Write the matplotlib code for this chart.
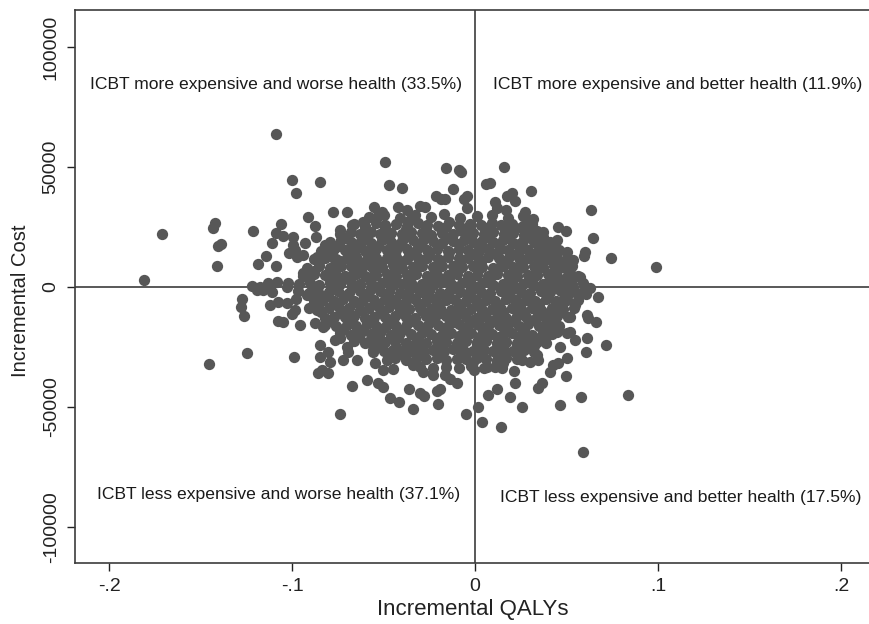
"""
Cost-effectiveness plane for ICBT: bootstrapped incremental QALYs vs incremental cost
"""
import matplotlib
matplotlib.use("Agg")
import matplotlib.pyplot as plt

plt.rcParams['font.family'] = ['Liberation Sans', 'DejaVu Sans']

# Scattered replicates away from the centre of the cloud
outer_points = [
    (-0.1085, 63600), (-0.100, 44500), (-0.098, 39000), (-0.0914, 29300), (-0.171, 22100),
    (-0.142, 26800), (-0.143, 24400), (-0.1215, 23200), (-0.106, 26100), (-0.109, 22600),
    (-0.105, 21300), (-0.0993, 20700), (-0.0996, 17500), (-0.0984, 15400), (-0.1015, 14300),
    (-0.0975, 12600), (-0.0938, 13300), (-0.0929, 18500), (-0.1403, 17100), (-0.139, 17900),
    (-0.111, 18200), (-0.1144, 13000), (-0.1186, 9600), (-0.109, 8800), (-0.1408, 8800),
    (-0.1807, 2900), (-0.0938, 5700), (-0.092, 7800), (-0.122, 500), (-0.1175, 100),
    (-0.113, 1800), (-0.1083, 2200), (-0.102, 1500), (-0.103, 200),
    (-0.0493, 51900), (-0.0847, 43600), (-0.0157, 49700), (-0.0087, 48700), (-0.0078, 47800),
    (-0.0472, 42400), (-0.0397, 41100), (-0.0118, 40700), (-0.0213, 37900), (-0.0186, 36800),
    (-0.0166, 36800), (-0.006, 36800), (-0.0045, 37900), (-0.0045, 32800), (-0.0552, 33200),
    (-0.030, 33700), (-0.042, 33200), (-0.0373, 32100), (-0.0774, 31100), (-0.0701, 31100),
    (-0.0874, 25400), (-0.0869, 20700), (-0.0792, 6400), (-0.0884, 6000), (0.0058, 42800),
    (-0.082, 17500), (-0.0738, 23750), (-0.0674, 25800), (-0.061, 27200), (-0.0537, 29300),
    (-0.051, 31400), (-0.0355, 27900), (-0.0273, 33500), (-0.0765, 11250), (-0.0865, 12600),
    (0.016, 50100), (0.0082, 43200), (0.0304, 40000), (0.0173, 38000), (0.0202, 39000),
    (0.0219, 35800), (0.0109, 35500), (0.0118, 32800), (0.0169, 32100), (0.0273, 31400),
    (0.0282, 27900), (0.0319, 28200), (0.0636, 32200), (0.0224, 24400), (0.0337, 23500),
    (0.0455, 24900), (0.0497, 23200), (0.0643, 20300), (0.0601, 14700), (0.0596, 13000),
    (0.0745, 12100), (0.0987, 8200), (0.0474, 9200), (0.0574, 4300), (0.0373, 21000),
    (0.0446, 19600), (0.0419, 17500), (0.0383, 15400), (0.0319, 13300), (0.0355, 12000),
    (0.0474, 400), (0.0537, 100), (0.0628, -500), (0.0446, 14000), (0.0501, 14700),
    (0.0537, 11250), (0.0519, 5700),
    (-0.1452, -32100), (-0.1248, -27600), (-0.0989, -29300), (-0.1275, -5000), (-0.126, -12100),
    (-0.128, -8300), (-0.112, -7600), (-0.1075, -14200), (-0.105, -14700), (-0.0956, -15800),
    (-0.1002, -11200), (-0.0984, -9600), (-0.1075, -6100), (-0.103, -6800), (-0.0978, -5000),
    (-0.1193, -1200), (-0.1157, -1200), (-0.111, -2000),
    (-0.0738, -52900), (-0.0674, -41100), (-0.0592, -38700), (-0.0528, -40100), (-0.0501, -41800),
    (-0.0464, -46400), (-0.0414, -47800), (-0.0361, -42500), (-0.030, -44300), (-0.0279, -45400),
    (-0.0337, -51000), (-0.020, -48900), (-0.0191, -42600), (-0.0209, -43200), (-0.0051, -52900),
    (0.0018, -49900), (0.0037, -56400), (-0.0847, -24200), (-0.0802, -27000), (-0.0847, -29000),
    (-0.0792, -31100), (-0.0838, -34600), (-0.0802, -36000), (-0.0856, -36000), (-0.0765, -22100),
    (-0.0738, -21400), (-0.072, -30400), (-0.0701, -24900), (-0.0692, -27000), (-0.0647, -30400),
    (-0.0583, -22800), (-0.0556, -27000), (-0.0546, -31800), (-0.0501, -34600), (-0.0446, -34300),
    (-0.0483, -30400), (-0.0455, -28300), (-0.041, -27600), (-0.0373, -27400), (-0.0319, -24600),
    (-0.0337, -32500), (-0.0283, -35300), (-0.0228, -36700), (-0.0164, -36700), (-0.0137, -38500),
    (-0.010, -40100), (-0.0009, -31100), (-0.0005, -34600), (0.0064, -33200), (0.0073, -45000),
    (-0.0874, -15100), (-0.0829, -16500), (-0.0865, -9600),
    (0.0592, -68900), (0.0142, -58500), (0.0258, -50100), (0.0191, -46000), (0.0464, -49200),
    (0.0578, -45700), (0.0834, -45000), (0.0118, -42600), (0.0346, -42000), (0.0364, -40100),
    (0.0219, -39900), (0.0497, -37100), (0.041, -35300), (0.0428, -32500), (0.0455, -31500),
    (0.0505, -29700), (0.0213, -34900), (0.0146, -33900), (0.0118, -31100), (0.0155, -31800),
    (0.0464, -25100), (0.0605, -27000), (0.0614, -21400), (0.0716, -24200), (0.0619, -13000),
    (0.061, -11700), (0.0661, -14700), (0.0505, -19300), (0.0546, -22100), (0.0519, -18600),
    (0.0605, -2900), (0.0674, -4000), (0.0546, -7500), (0.0519, -12400), (0.0464, -10300),
    (0.041, -10300), (0.0546, -2000), (0.0492, -4000), (0.0464, -1200),
    (0.041, -16500), (0.0446, -18600), (0.0392, -20000), (0.0355, -22100), (0.0319, -23500),
    (0.0282, -24900), (0.0264, -26200), (0.0237, -29000), (0.0255, -30400), (0.030, -31100),
    (0.0346, -30400), (0.0337, -28300),
]

# Dense centre of the cloud, listed roughly row by row from the top
core_qaly = [
    -0.058, -0.050, -0.041, -0.033, -0.024, -0.017, -0.008, 0.001, 0.009, 0.018, 0.026,
    -0.066, -0.060, -0.054, -0.049, -0.043, -0.037, -0.031, -0.026, -0.020, -0.014, -0.009,
    -0.003, 0.003, 0.009, 0.014, 0.020, 0.026, 0.031,
    -0.074, -0.068, -0.063, -0.057, -0.052, -0.046, -0.040, -0.035, -0.029, -0.024, -0.018,
    -0.012, -0.007, -0.001, 0.005, 0.010, 0.016, 0.021, 0.027, 0.032, 0.037,
    -0.079, -0.073, -0.068, -0.062, -0.057, -0.051, -0.046, -0.040, -0.034, -0.029, -0.023,
    -0.018, -0.012, -0.006, -0.001, 0.004, 0.010, 0.015, 0.021, 0.026, 0.032, 0.037, 0.041,
    -0.084, -0.077, -0.071, -0.065, -0.060, -0.054, -0.048, -0.043, -0.037, -0.032, -0.026,
    -0.021, -0.015, -0.009, -0.004, 0.002, 0.007, 0.013, 0.018, 0.024, 0.029, 0.035, 0.040, 0.046,
    -0.088, -0.082, -0.076, -0.070, -0.065, -0.059, -0.054, -0.048, -0.043, -0.037, -0.031,
    -0.026, -0.020, -0.015, -0.009, -0.004, 0.002, 0.007, 0.013, 0.018, 0.024, 0.029, 0.035,
    0.040, 0.045, 0.050,
    -0.085, -0.079, -0.073, -0.068, -0.062, -0.057, -0.051, -0.045, -0.040, -0.034, -0.029,
    -0.023, -0.018, -0.012, -0.007, -0.001, 0.004, 0.010, 0.015, 0.021, 0.026, 0.032, 0.037,
    0.043, 0.048, 0.053,
    -0.094, -0.088, -0.082, -0.076, -0.071, -0.065, -0.060, -0.054, -0.048, -0.043, -0.037,
    -0.032, -0.026, -0.021, -0.015, -0.010, -0.004, 0.001, 0.007, 0.012, 0.018, 0.023, 0.029,
    0.034, 0.040, 0.045, 0.051, 0.056,
    -0.096, -0.090, -0.085, -0.079, -0.074, -0.068, -0.063, -0.057, -0.051, -0.046, -0.040,
    -0.035, -0.029, -0.024, -0.018, -0.013, -0.007, -0.002, 0.004, 0.009, 0.015, 0.020, 0.026,
    0.031, 0.037, 0.042, 0.048, 0.053, 0.059,
    -0.097, -0.091, -0.086, -0.080, -0.075, -0.069, -0.063, -0.058, -0.052, -0.047, -0.041,
    -0.036, -0.030, -0.025, -0.019, -0.014, -0.008, -0.003, 0.003, 0.008, 0.014, 0.019, 0.025,
    0.030, 0.036, 0.041, 0.047, 0.052, 0.058,
    -0.088, -0.083, -0.077, -0.072, -0.066, -0.061, -0.055, -0.049, -0.044, -0.038, -0.033,
    -0.027, -0.022, -0.016, -0.011, -0.005, 0.0005, 0.006, 0.011, 0.017, 0.022, 0.028, 0.033,
    0.039, 0.044, 0.050, 0.056,
    -0.091, -0.085, -0.080, -0.074, -0.069, -0.063, -0.058, -0.052, -0.047, -0.041, -0.036,
    -0.030, -0.024, -0.019, -0.013, -0.008, -0.002, 0.003, 0.009, 0.014, 0.020, 0.025, 0.031,
    0.036, 0.042, 0.048, 0.054,
    -0.082, -0.077, -0.071, -0.066, -0.060, -0.055, -0.049, -0.044, -0.038, -0.033, -0.027,
    -0.022, -0.016, -0.011, -0.005, 0.001, 0.006, 0.012, 0.017, 0.023, 0.028, 0.034, 0.039,
    0.045, 0.051,
    -0.082, -0.076, -0.070, -0.065, -0.059, -0.054, -0.048, -0.043, -0.037, -0.031, -0.026,
    -0.020, -0.015, -0.009, -0.004, 0.002, 0.007, 0.013, 0.018, 0.024, 0.029, 0.035, 0.040, 0.046,
    -0.074, -0.068, -0.063, -0.057, -0.052, -0.046, -0.041, -0.035, -0.029, -0.024, -0.018,
    -0.013, -0.007, -0.002, 0.004, 0.009, 0.015, 0.020, 0.026, 0.031, 0.037, 0.042,
    -0.066, -0.060, -0.055, -0.049, -0.044, -0.038, -0.032, -0.027, -0.021, -0.016, -0.010,
    -0.005, 0.001, 0.006, 0.012, 0.017, 0.023, 0.028, 0.034, 0.039,
    -0.056, -0.050, -0.045, -0.039, -0.034, -0.028, -0.023, -0.017, -0.012, -0.006, -0.001,
    0.005, 0.010, 0.016, 0.021, 0.027, 0.032,
    -0.044, -0.038, -0.032, -0.027, -0.021, -0.016, -0.010, -0.005, 0.001, 0.006, 0.012,
    0.017, 0.023,
    -0.030, -0.023, -0.016, -0.009, -0.002, 0.005, 0.011,
]

core_cost = [
    29000, 30200, 28800, 29900, 29300, 30500, 28700, 29600, 30100, 28900, 29400,
    26300, 25600, 26800, 25900, 26400, 25400, 26700, 26000, 25500, 26900, 25800,
    26300, 25700, 26600, 25900, 26200, 25500, 26100,
    22000, 22900, 22300, 23100, 21900, 22600, 22200, 23000, 22400, 21800, 22700,
    22100, 23200, 22500, 21900, 22800, 22300, 22600, 21800, 22400, 22900,
    18600, 19400, 18900, 19200, 18500, 19500, 18800, 19100, 19600, 18700, 19300,
    18400, 19000, 19500, 18600, 19200, 18900, 19400, 18500, 19100, 18800, 19300, 18700,
    15200, 15900, 15400, 15700, 15100, 16000, 15300, 15600, 15800, 15000, 15500,
    15900, 15200, 15700, 15400, 15100, 15800, 15300, 15600, 15000, 15500, 15900, 15200, 15600,
    11800, 12300, 11600, 12100, 12500, 11700, 12200, 11900, 12400, 11500, 12000,
    12300, 11800, 12600, 11900, 12100, 11600, 12400, 12000, 11700, 12300, 11900, 12200,
    11600, 12100, 11800,
    8900, 8100, 8600, 8800, 8200, 8700, 8400, 9000, 8100, 8500, 8800,
    8300, 8600, 8900, 8200, 8700, 8400, 8100, 8800, 8500, 8300, 8900, 8200,
    8600, 8400, 8700,
    4700, 5300, 4900, 5200, 4600, 5400, 4800, 5100, 5500, 4700, 5000,
    5300, 4600, 5200, 4900, 5400, 4800, 5100, 4500, 5300, 5000, 4700, 5200,
    4900, 5400, 4600, 5100, 4800,
    1200, 1800, 1000, 1600, 1300, 1900, 1100, 1500, 1700, 1000, 1400,
    1800, 1200, 1600, 1900, 1100, 1500, 1300, 1700, 1000, 1400, 1800, 1200,
    1600, 1100, 1500, 1900, 1300, 1600,
    -1700, -2300, -1900, -2100, -1600, -2400, -1800, -2200, -1500, -2000, -2300,
    -1700, -2100, -1600, -2400, -1900, -2200, -1800, -2000, -2300, -1600, -2100, -1900,
    -2400, -1700, -2200, -1800, -2000, -2300,
    -5800, -5400, -5700, -5100, -5900, -5300, -5600, -5000, -5500, -5800, -5200,
    -5700, -5100, -5600, -5400, -5900, -5300, -5500, -5800, -5100, -5600, -5400, -5900,
    -5200, -5700, -5300, -5500,
    -8700, -9300, -8900, -9100, -8600, -9400, -8800, -9200, -8500, -9000, -9300,
    -8700, -9100, -8600, -9400, -8900, -9200, -8800, -9000, -9300, -8600, -9100, -8900,
    -9400, -8700, -9200, -8800,
    -12800, -12400, -12700, -12100, -12900, -12300, -12600, -12000, -12500, -12800, -12200,
    -12700, -12100, -12600, -12400, -12900, -12300, -12500, -12800, -12100, -12600, -12400,
    -12900, -12200, -12700,
    -15700, -16300, -15900, -16100, -15600, -16400, -15800, -16200, -15500, -16000, -16300,
    -15700, -16100, -15600, -16400, -15900, -16200, -15800, -16000, -16300, -15600, -16100,
    -15900, -16400,
    -19200, -19800, -19400, -19700, -19100, -19900, -19300, -19600, -19000, -19500, -19800,
    -19200, -19700, -19100, -19600, -19400, -19900, -19300, -19500, -19800, -19100, -19600,
    -22700, -23300, -22900, -23100, -22600, -23400, -22800, -23200, -22500, -23000, -23300,
    -22700, -23100, -22600, -23400, -22900, -23200, -22800, -23000, -23300,
    -26200, -26800, -26400, -26700, -26100, -26900, -26300, -26600, -26000, -26500, -26800,
    -26200, -26700, -26100, -26600, -26400, -26900,
    -29700, -30300, -29900, -30100, -29600, -30400, -29800, -30200, -29500, -30000, -30300,
    -29700, -30100,
    -33200, -33800, -33400, -33700, -33100, -33900, -33300,
]

# Replicates lying between the rows above, where the cloud is thickest
fill_qaly = [
    -0.060, -0.049, -0.038, -0.027, -0.016, -0.005, 0.006, 0.017, 0.028,
    -0.070, -0.059, -0.048, -0.037, -0.026, -0.015, -0.004, 0.007, 0.018, 0.029,
    -0.075, -0.064, -0.053, -0.042, -0.031, -0.020, -0.009, 0.002, 0.013, 0.024, 0.035,
    -0.080, -0.069, -0.058, -0.047, -0.036, -0.025, -0.014, -0.003, 0.008, 0.019, 0.030, 0.041,
    -0.085, -0.074, -0.063, -0.052, -0.041, -0.030, -0.019, -0.008, 0.003, 0.014, 0.025, 0.036,
    0.046,
    -0.088, -0.077, -0.066, -0.055, -0.044, -0.033, -0.022, -0.011, 0.0015, 0.012, 0.023, 0.034,
    0.045,
    -0.091, -0.080, -0.069, -0.058, -0.047, -0.036, -0.025, -0.014, -0.003, 0.008, 0.019, 0.030,
    0.041, 0.051,
    -0.089, -0.078, -0.067, -0.056, -0.045, -0.034, -0.023, -0.012, -0.001, 0.010, 0.021, 0.032,
    0.043, 0.053,
    -0.092, -0.081, -0.070, -0.059, -0.048, -0.037, -0.026, -0.015, -0.004, 0.007, 0.018, 0.029,
    0.040, 0.050,
    -0.086, -0.075, -0.064, -0.053, -0.042, -0.031, -0.020, -0.009, 0.002, 0.013, 0.024, 0.035,
    0.046,
    -0.084, -0.073, -0.062, -0.051, -0.040, -0.029, -0.018, -0.007, 0.004, 0.015, 0.026, 0.037,
    0.047,
    -0.078, -0.067, -0.056, -0.045, -0.034, -0.023, -0.012, -0.001, 0.010, 0.021, 0.032, 0.043,
    -0.072, -0.061, -0.050, -0.039, -0.028, -0.017, -0.006, 0.005, 0.016, 0.027, 0.038,
    -0.064, -0.053, -0.042, -0.031, -0.020, -0.009, 0.002, 0.013, 0.024, 0.035,
    -0.054, -0.043, -0.032, -0.021, -0.010, 0.001, 0.012, 0.023, 0.032,
    -0.040, -0.029, -0.018, -0.007, 0.004, 0.015,
]

fill_cost = [
    24300, 24800, 24200, 24600, 24900, 24100, 24700, 24400, 24500,
    20800, 21300, 20700, 21100, 21200, 20600, 21400, 20900, 21000, 21300,
    17300, 17800, 17200, 17600, 17700, 17100, 17900, 17400, 17500, 17800, 17300,
    13800, 14300, 13700, 14100, 14200, 13600, 14400, 13900, 14000, 14300, 13800, 14200,
    10300, 10800, 10200, 10600, 10700, 10100, 10900, 10400, 10500, 10800, 10300, 10700, 10400,
    6800, 7300, 6700, 7100, 7200, 6600, 7400, 6900, 7000, 7300, 6800, 7200, 6900,
    3300, 3800, 3200, 3600, 3700, 3100, 3900, 3400, 3500, 3800, 3300, 3700, 3400, 3600,
    300, 700, 200, 600, 800, 250, 900, 400, 500, 800, 300, 700, 400, 600,
    -3300, -3800, -3200, -3600, -3700, -3100, -3900, -3400, -3500, -3800, -3300, -3700,
    -3400, -3600,
    -6800, -7300, -6700, -7100, -7200, -6600, -7400, -6900, -7000, -7300, -6800, -7200, -6900,
    -10300, -10800, -10200, -10600, -10700, -10100, -10900, -10400, -10500, -10800, -10300,
    -10700, -10400,
    -13800, -14300, -13700, -14100, -14200, -13600, -14400, -13900, -14000, -14300, -13800,
    -14200,
    -17300, -17800, -17200, -17600, -17700, -17100, -17900, -17400, -17500, -17800, -17300,
    -20800, -21300, -20700, -21100, -21200, -20600, -21400, -20900, -21000, -21300,
    -24300, -24800, -24200, -24600, -24700, -24100, -24900, -24400, -24500,
    -27800, -28300, -27700, -28100, -28200, -27600,
]

x_ticks = [-0.2, -0.1, 0, 0.1, 0.2]
x_tick_labels = ['-.2', '-.1', '0', '.1', '.2']
y_ticks = [-100000, -50000, 0, 50000, 100000]
y_tick_labels = ['-100000', '-50000', '0', '50000', '100000']

quadrant_labels = [
    ('ICBT more expensive and worse health (33.5%)', -0.2104, 84200),
    ('ICBT more expensive and better health (11.9%)', 0.0098, 84200),
    ('ICBT less expensive and worse health (37.1%)', -0.2066, -86300),
    ('ICBT less expensive and better health (17.5%)', 0.0137, -87900),
]

qaly = [p[0] for p in outer_points] + core_qaly + fill_qaly
cost = [p[1] for p in outer_points] + core_cost + fill_cost

fig = plt.figure(figsize=(8.7, 6.24), dpi=100)
ax = fig.add_axes([0.0862, 0.0978, 0.9138, 0.886])

ax.axhline(0, color='#3c3c3c', lw=1.2, zorder=1)
ax.axvline(0, color='#3c3c3c', lw=1.2, zorder=1)
ax.scatter(qaly, cost, s=66, color='#575757', linewidths=0, zorder=2)

for text, x, y in quadrant_labels:
    ax.text(x, y, text, fontsize=12.6, color='#1a1a1a', va='center', ha='left')

ax.set_xlim(-0.2186, 0.2158)
ax.set_ylim(-115000, 115400)
ax.set_xticks(x_ticks)
ax.set_xticklabels(x_tick_labels)
ax.set_yticks(y_ticks)
ax.set_yticklabels(y_tick_labels, rotation=90, va='center')
ax.tick_params(direction='out', length=6, width=1, colors='#222222', labelsize=14, pad=5)

for side in ['left', 'bottom', 'top']:
    ax.spines[side].set_color('#3c3c3c')
    ax.spines[side].set_linewidth(1.2)
ax.spines['right'].set_visible(False)

ax.set_xlabel('Incremental QALYs', fontsize=16, color='#222222', labelpad=3)
ax.set_ylabel('Incremental Cost', fontsize=14.5, color='#222222')
ax.yaxis.set_label_coords(-0.056, 0.475)

fig.savefig('out.png', dpi=100)
